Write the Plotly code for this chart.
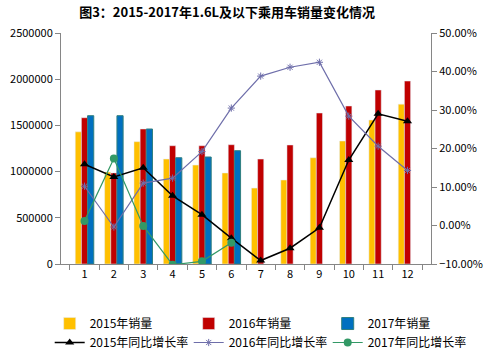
import plotly.graph_objects as go

months = [str(i) for i in range(1, 13)]
sales_2015 = [1430000, 995000, 1324000, 1136000, 1071000, 985000, 822000, 909000, 1150000, 1331000, 1558000, 1730000]
sales_2016 = [1583000, 985000, 1461000, 1280000, 1280000, 1291000, 1136000, 1288000, 1634000, 1710000, 1883000, 1980000]
sales_2017 = [1605000, 1605000, 1461000, 1150000, 1158000, 1226000]
growth_2015 = [0.159, 0.126, 0.150, 0.077, 0.028, -0.033, -0.091, -0.059, -0.006, 0.170, 0.290, 0.271]
growth_2016 = [0.102, -0.004, 0.110, 0.123, 0.192, 0.305, 0.388, 0.411, 0.424, 0.284, 0.206, 0.143]
growth_2017 = [0.012, 0.174, -0.001, -0.102, -0.093, -0.045]

FONT = "Noto Sans CJK SC"
AX = "#868686"

W, H = 497, 353
ML, MR, MT, MB = 5, 5, 33, 70
PLOT_L, PLOT_R, PLOT_B = 61, 431, 264
pw = W - ML - MR
ph = H - MT - MB
xdom = [(PLOT_L - ML) / pw, (PLOT_R - ML) / pw]
ydom = [(H - MB - PLOT_B) / ph, 1.0]

fig = go.Figure()
fig.add_bar(x=months, y=sales_2015, name="2015年销量", marker_color="#FFC000")
fig.add_bar(x=months, y=sales_2016, name="2016年销量", marker_color="#C00000")
fig.add_bar(x=months[:6], y=sales_2017, name="2017年销量", marker_color="#0070C0",
            marker_line=dict(color="#2F7F7F", width=1))
fig.add_scatter(x=months, y=growth_2015, name="2015年同比增长率", yaxis="y2", mode="lines+markers",
                line=dict(color="#000000", width=1.5),
                marker=dict(symbol="triangle-up", size=8, color="#000000"))
fig.add_scatter(x=months, y=growth_2016, name="2016年同比增长率", yaxis="y2", mode="lines+markers",
                line=dict(color="#6E6EAA", width=1.2),
                marker=dict(symbol="asterisk-open", size=6, color="#6E6EAA", line=dict(width=1, color="#6E6EAA")))
fig.add_scatter(x=months[:6], y=growth_2017, name="2017年同比增长率", yaxis="y2", mode="lines+markers",
                line=dict(color="#339966", width=1.2),
                marker=dict(symbol="circle", size=8, color="#339966"))

fig.update_layout(
    width=W, height=H,
    margin=dict(l=ML, r=MR, t=MT, b=MB),
    paper_bgcolor="white", plot_bgcolor="white",
    font=dict(family=FONT, size=11, color="#000000"),
    title=dict(text="<b>图3：2015-2017年1.6L及以下乘用车销量变化情况</b>",
               x=0.457, xanchor="center", xref="container", y=0.965, yanchor="middle",
               font=dict(family=FONT, size=13, color="#000000")),
    barmode="group", bargap=0.37, bargroupgap=0,
    xaxis=dict(type="category", domain=xdom, showline=True, linecolor=AX, linewidth=1,
               ticks="outside", tickson="boundaries", ticklen=5, tickcolor=AX,
               showgrid=False, tickfont=dict(size=11)),
    yaxis=dict(domain=ydom, range=[0, 2500000], dtick=500000, tickformat="d", showline=True, linecolor=AX,
               ticks="outside", ticklen=5, tickcolor=AX, showgrid=False, zeroline=False,
               tickfont=dict(size=11)),
    yaxis2=dict(range=[-0.10, 0.50], dtick=0.10, tickformat=".2%", overlaying="y", side="right",
                anchor="x", showline=True, linecolor=AX, ticks="outside", ticklen=5, tickcolor=AX,
                showgrid=False, zeroline=False, tickfont=dict(size=11)),
    legend=dict(orientation="h", xref="container", yref="container",
                x=0.1, xanchor="left", y=0.1246, yanchor="top",
                entrywidth=94, entrywidthmode="pixels", font=dict(size=12),
                traceorder="normal", tracegroupgap=0),
    showlegend=True,
)

fig.write_html("out.html")
